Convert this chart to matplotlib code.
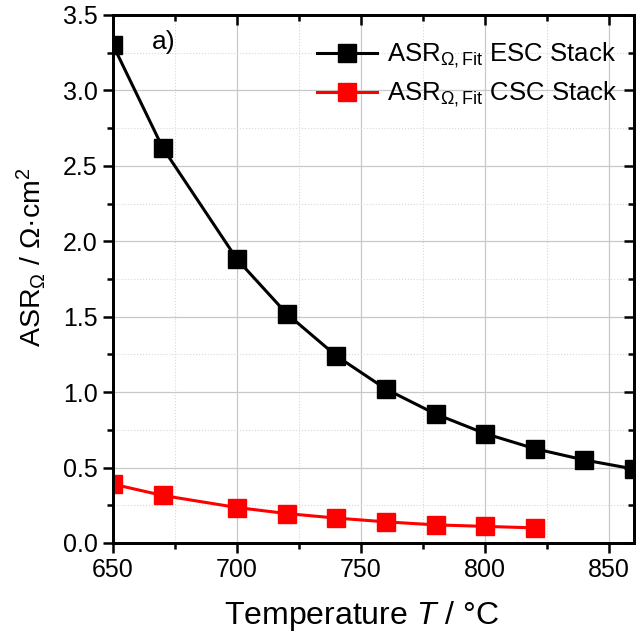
import matplotlib
matplotlib.use('Agg')
import matplotlib.pyplot as plt
from matplotlib.ticker import MultipleLocator, FormatStrFormatter

plt.rcParams['font.family'] = ['Liberation Sans', 'DejaVu Sans']
plt.rcParams['mathtext.fontset'] = 'custom'
plt.rcParams['mathtext.rm'] = 'Liberation Sans'
plt.rcParams['mathtext.it'] = 'Liberation Sans:italic'

# data
temp_esc = [650, 670, 700, 720, 740, 760, 780, 800, 820, 840, 860]
asr_esc = [3.30, 2.62, 1.88, 1.52, 1.24, 1.02, 0.855, 0.725, 0.625, 0.55, 0.49]
temp_csc = [650, 670, 700, 720, 740, 760, 780, 800, 820]
asr_csc = [0.39, 0.315, 0.235, 0.195, 0.165, 0.14, 0.12, 0.11, 0.10]

fig = plt.figure(figsize=(6.44, 6.37), dpi=100)
ax = fig.add_axes([0.1755, 0.1476, 0.809, 0.829])

ax.plot(temp_esc, asr_esc, color='black', lw=2.2, marker='s', ms=13,
        label=r'ASR$_{\Omega\mathrm{,Fit}}$ ESC Stack', zorder=4)
ax.plot(temp_csc, asr_csc, color='red', lw=2.2, marker='s', ms=13,
        label=r'ASR$_{\Omega\mathrm{,Fit}}$ CSC Stack', zorder=3)

ax.set_xlim(650, 860)
ax.set_ylim(0, 3.5)
ax.xaxis.set_major_locator(MultipleLocator(50))
ax.xaxis.set_minor_locator(MultipleLocator(25))
ax.yaxis.set_major_locator(MultipleLocator(0.5))
ax.yaxis.set_minor_locator(MultipleLocator(0.25))
ax.yaxis.set_major_formatter(FormatStrFormatter('%.1f'))

ax.grid(which='major', color='#c8c8c8', lw=0.9)
ax.grid(which='minor', color='#d8d8d8', lw=0.8, ls=':')
ax.set_axisbelow(True)

for s in ax.spines.values():
    s.set_linewidth(1.8)
ax.tick_params(which='both', direction='out', width=1.8, labelsize=18, pad=4)
ax.tick_params(which='major', length=7)
ax.tick_params(which='minor', length=4)

# mirrored ticks on top and right, pointing in
axt = ax.twiny()
axt.set_xlim(ax.get_xlim())
axt.xaxis.set_major_locator(MultipleLocator(50))
axt.xaxis.set_minor_locator(MultipleLocator(25))
axr = ax.twinx()
axr.set_ylim(ax.get_ylim())
axr.yaxis.set_major_locator(MultipleLocator(0.5))
axr.yaxis.set_minor_locator(MultipleLocator(0.25))
for a in (axt, axr):
    for s in a.spines.values():
        s.set_linewidth(1.8)
    a.tick_params(which='both', direction='in', width=1.8,
                  labeltop=False, labelright=False)
    a.tick_params(which='major', length=7)
    a.tick_params(which='minor', length=4)

ax.set_xlabel(r'Temperature $\mathit{T}$ / °C', fontsize=23)
ax.xaxis.set_label_coords(0.477, -0.107)
ax.set_ylabel(r'ASR$_\Omega$ / $\Omega$·cm$^2$', fontsize=20.5)
ax.yaxis.set_label_coords(-0.124, 0.54)

ax.text(0.075, 0.949, 'a)', transform=ax.transAxes, fontsize=19, va='center')

ax.legend(loc='upper right', bbox_to_anchor=(0.998, 0.98), frameon=False,
          fontsize=18.5, handlelength=2.33, handletextpad=0.39,
          labelspacing=0.38, borderaxespad=0.2)

fig.savefig('out.png', dpi=100)
